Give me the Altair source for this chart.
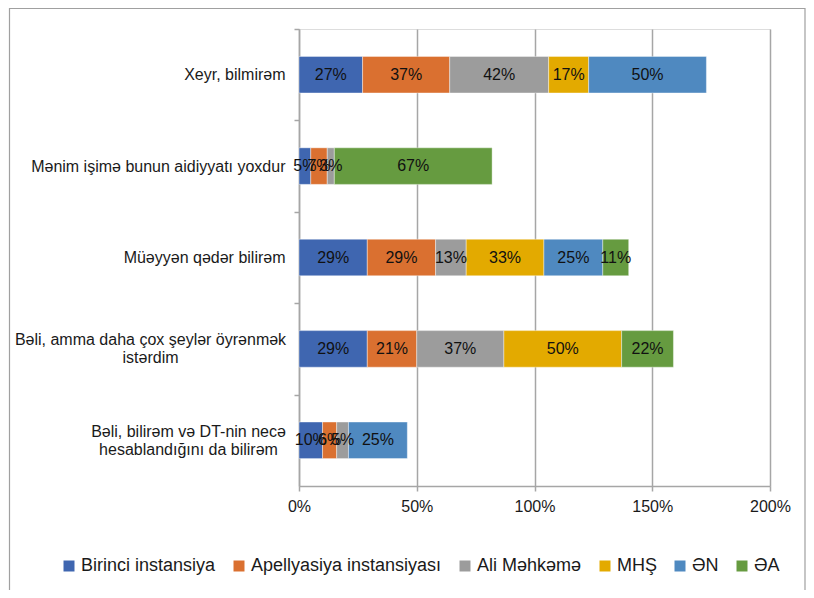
import altair as alt
import pandas as pd

categories = [
    "Xeyr, bilmirəm",
    "Mənim işimə bunun aidiyyatı yoxdur",
    "Müəyyən qədər bilirəm",
    "Bəli, amma daha çox şeylər öyrənmək\nistərdim",
    "Bəli, bilirəm və DT-nin necə\nhesablandığını da bilirəm",
]
series = ["Birinci instansiya", "Apellyasiya instansiyası", "Ali Məhkəmə", "MHŞ", "ƏN", "ƏA"]
colors = ["#3F66B0", "#DA7030", "#9C9C9C", "#E3AA00", "#4F89C0", "#669B40"]

birinci = [0.27, 0.05, 0.29, 0.29, 0.10]
apellyasiya = [0.37, 0.07, 0.29, 0.21, 0.06]
ali = [0.42, 0.03, 0.13, 0.37, 0.05]
mhs = [0.17, 0.00, 0.33, 0.50, 0.00]
en = [0.50, 0.00, 0.25, 0.00, 0.25]
ea = [0.00, 0.67, 0.11, 0.22, 0.00]
values_by_series = [birinci, apellyasiya, ali, mhs, en, ea]

rows = []
for si, (s, vals) in enumerate(zip(series, values_by_series)):
    for c, v in zip(categories, vals):
        if v > 0:
            rows.append({"cat": c, "series": s, "order": si, "value": v})
df = pd.DataFrame(rows)

FONT = "Liberation Sans"
GRAY = "#A6A6A6"
STEP_HALF = 457 / 5 / 2

base = alt.Chart(df).transform_stack(
    stack="value", groupby=["cat"], as_=["v0", "v1"],
    sort=[alt.SortField("order", order="ascending")],
).transform_calculate(mid="(datum.v0 + datum.v1) / 2")

yenc = alt.Y(
    "cat:N", sort=categories, title=None,
    scale=alt.Scale(paddingInner=0.6, paddingOuter=0.3),
    axis=alt.Axis(
        labelExpr="split(datum.label, '\\n')",
        labelFont=FONT, labelFontSize=16, labelColor="#1a1a1a",
        labelAlign={"condition": {"test": "indexof(datum.label, '\\n') >= 0", "value": "center"}, "value": "right"},
        labelPadding={"condition": [
            {"test": "indexof(datum.label, 'amma') >= 0", "value": 144},
            {"test": "indexof(datum.label, 'DT-nin') >= 0", "value": 106},
        ], "value": 9},
        labelOffset={"condition": {"test": "indexof(datum.label, '\\n') >= 0", "value": STEP_HALF - 9}, "value": STEP_HALF},
        tickOffset=-STEP_HALF,
        labelLimit=0, labelLineHeight=18,
        domainColor=GRAY, domainWidth=1.5,
        tickColor=GRAY, tickWidth=1.5, tickSize=5,
        grid=False,
    ),
)

xenc_axis = alt.Axis(
    values=[0, 0.5, 1, 1.5, 2], format=".0%", labelFlush=False,
    labelFont=FONT, labelFontSize=16, labelColor="#1a1a1a", labelPadding=7,
    domainColor=GRAY, domainWidth=1.5, tickColor=GRAY, tickWidth=1.5, tickSize=5,
    grid=True, gridColor=GRAY, gridWidth=1.5,
)

bars = base.mark_bar(stroke="white", strokeWidth=0.4).encode(
    x=alt.X("v0:Q", title=None, scale=alt.Scale(domain=[0, 2]), axis=xenc_axis),
    x2="v1:Q",
    y=yenc,
    color=alt.Color(
        "series:N", sort=series,
        scale=alt.Scale(domain=series, range=colors),
        legend=alt.Legend(
            orient="none", direction="horizontal", legendX=-239, legendY=528,
            title=None, symbolType="square", symbolSize=121, symbolStrokeWidth=0,
            labelFont=FONT, labelFontSize=18, labelColor="#1a1a1a",
            labelLimit=0, columnPadding=14, labelOffset=3,
        ),
    ),
    order=alt.Order("order:Q"),
)

labels = base.mark_text(font=FONT, fontSize=16, color="#111111").encode(
    x=alt.X("mid:Q"),
    y=alt.Y("cat:N", sort=categories),
    text=alt.Text("value:Q", format=".0%"),
)

frame = alt.Chart(pd.DataFrame({"a": [0]})).mark_rect(
    fill="transparent", stroke="#A0A0A0", strokeWidth=1.2
).encode(
    x=alt.value(-289.5), x2=alt.value(506), y=alt.value(-20.5), y2=alt.value(700)
)

chart = alt.layer(frame, bars, labels).properties(
    width=471, height=457,
    autosize=alt.AutoSizeParams(type="none"),
    padding={"left": 291, "top": 21, "right": 36, "bottom": 104},
).configure_view(strokeWidth=0).configure(background="white")

chart.save("out.html", embed_options={"renderer": "svg", "actions": False})
